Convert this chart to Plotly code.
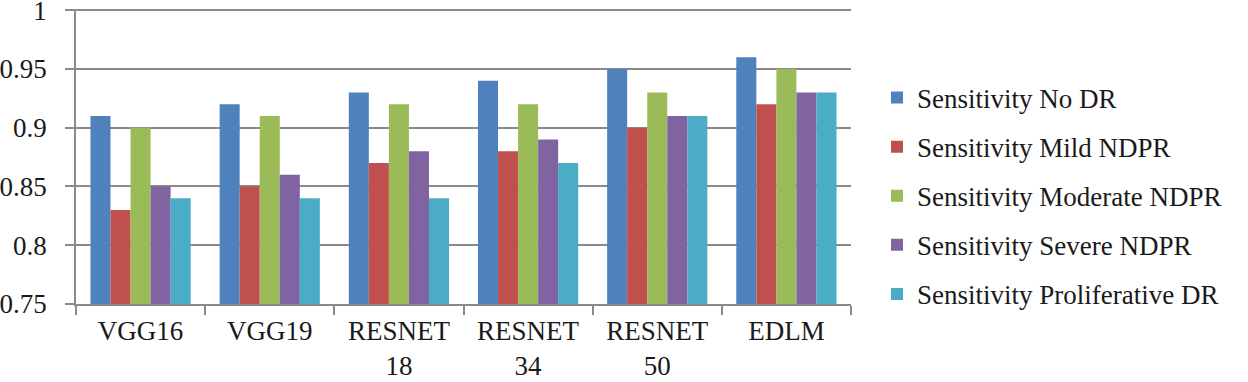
import plotly.graph_objects as go

categories = ["VGG16", "VGG19", "RESNET<br>18", "RESNET<br>34", "RESNET<br>50", "EDLM"]
series_names = [
    "Sensitivity No DR",
    "Sensitivity Mild NDPR",
    "Sensitivity Moderate NDPR",
    "Sensitivity Severe NDPR",
    "Sensitivity Proliferative DR",
]
no_dr = [0.91, 0.92, 0.93, 0.94, 0.95, 0.96]
mild_ndpr = [0.83, 0.85, 0.87, 0.88, 0.90, 0.92]
moderate_ndpr = [0.90, 0.91, 0.92, 0.92, 0.93, 0.95]
severe_ndpr = [0.85, 0.86, 0.88, 0.89, 0.91, 0.93]
proliferative_dr = [0.84, 0.84, 0.84, 0.87, 0.91, 0.93]
y_tickvals = [0.75, 0.8, 0.85, 0.9, 0.95, 1.0]
y_ticktext = ["0.75", "0.8", "0.85", "0.9", "0.95", "1"]

colors = ["#4F81BD", "#C0504D", "#9BBB59", "#8064A2", "#4BACC6"]
all_series = [no_dr, mild_ndpr, moderate_ndpr, severe_ndpr, proliferative_dr]

FONT = "Liberation Serif"
GRID = "#8a8a8a"
FS = 27

fig = go.Figure()
for name, vals, col in zip(series_names, all_series, colors):
    fig.add_trace(go.Bar(
        x=categories, y=vals, name=name, legendgroup=name,
        marker=dict(color=col, line=dict(width=0)),
    ))

fig.update_layout(
    width=1248, height=382,
    margin=dict(l=76, r=397, t=9, b=78, autoexpand=False),
    paper_bgcolor="white", plot_bgcolor="white",
    barmode="group", bargap=0.224, bargroupgap=0,
    font=dict(family=FONT, size=FS, color="#1a1a1a"),
    legend=dict(
        xref="container", yref="container",
        x=877 / 1248, y=1 - 196 / 382, xanchor="left", yanchor="middle",
        font=dict(family=FONT, size=FS, color="#1a1a1a"),
        tracegroupgap=11, itemwidth=30, maxheight=380,
        bgcolor="rgba(0,0,0,0)",
    ),
    xaxis=dict(
        showline=True, linecolor=GRID, linewidth=1.5,
        ticks="outside", tickson="boundaries", ticklen=9, tickcolor=GRID, tickwidth=1.5,
        showgrid=False, tickfont=dict(family=FONT, size=FS, color="#1a1a1a"),
        ticklabelstandoff=2, ticklabeloverflow="allow",
    ),
    yaxis=dict(
        range=[0.75, 1.001], tickvals=y_tickvals, ticktext=y_ticktext,
        showline=True, linecolor=GRID, linewidth=1.5,
        ticks="outside", ticklen=9, tickcolor=GRID, tickwidth=1.5,
        showgrid=True, gridcolor=GRID, gridwidth=1.5,
        zeroline=False,
        tickfont=dict(family=FONT, size=FS, color="#1a1a1a"),
        ticklabelstandoff=13, ticklabeloverflow="allow",
    ),
)

fig.write_html(
    "out.html",
    config={"displayModeBar": False},
    post_script="document.body.style.margin='0';document.body.style.overflow='hidden';",
)
